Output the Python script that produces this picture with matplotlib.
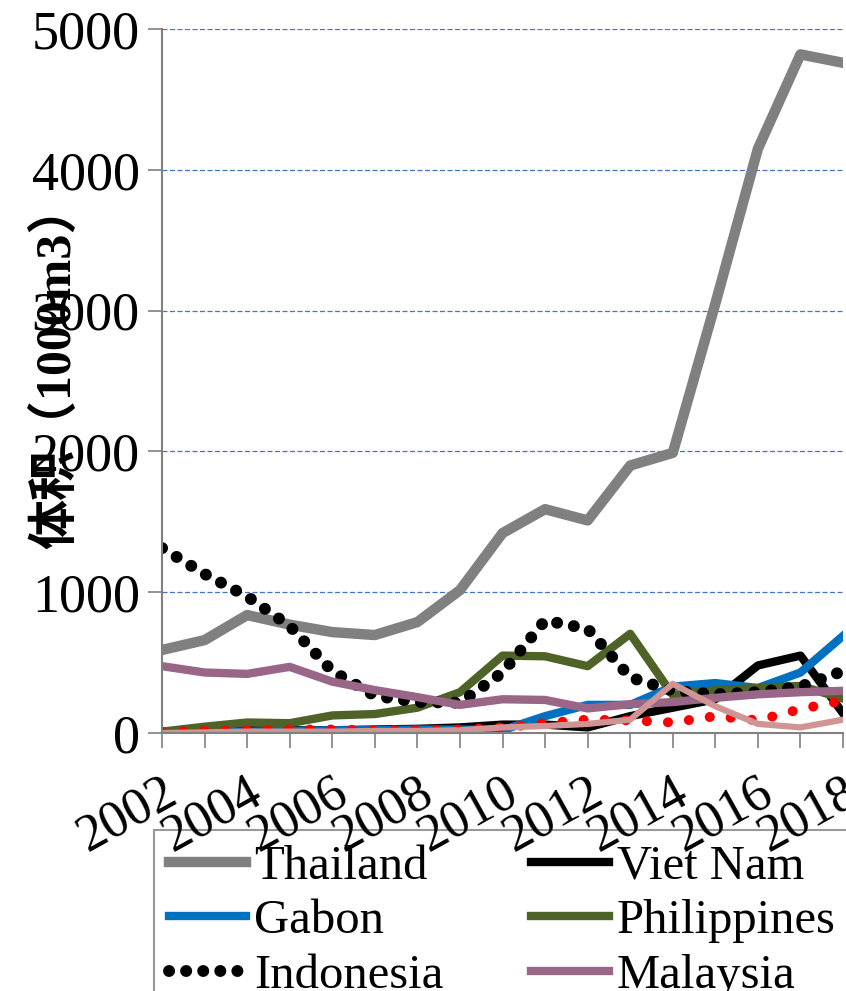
import matplotlib
matplotlib.use("Agg")
import matplotlib.pyplot as plt

# Data (volume, 1000 m3)
years = list(range(2002, 2019))
thailand = [590, 660, 838, 770, 717, 696, 788, 1015, 1420, 1590, 1510, 1900, 1990, 3050, 4150, 4820, 4760]
viet_nam = [10, 15, 20, 20, 20, 25, 30, 40, 60, 60, 40, 120, 180, 240, 480, 550, 140]
gabon = [0, 5, 10, 15, 20, 20, 25, 25, 20, 120, 200, 200, 330, 355, 320, 430, 690]
philippines = [10, 45, 75, 70, 125, 135, 180, 290, 550, 545, 475, 705, 270, 305, 320, 335, 245]
indonesia = [1314, 1130, 970, 760, 440, 265, 220, 215, 430, 800, 740, 395, 300, 275, 290, 330, 440]
malaysia = [475, 430, 420, 470, 365, 305, 255, 200, 240, 235, 175, 205, 220, 250, 275, 290, 300]
other_red = [10, 15, 20, 25, 25, 20, 20, 25, 40, 70, 95, 90, 75, 120, 90, 170, 230]
other_pink = [0, 5, 10, 10, 10, 15, 15, 20, 40, 50, 65, 95, 350, 190, 65, 40, 95]

plt.rcParams['font.family'] = ['Liberation Serif', 'DejaVu Serif']

fig = plt.figure(figsize=(8.46, 9.91), dpi=100)
ax = fig.add_axes([0.1915, 0.2603, 0.8050, 0.7104])

h_th, = ax.plot(years, thailand, color='#808080', lw=7.5, label='Thailand')
h_vn, = ax.plot(years, viet_nam, color='black', lw=6, label='Viet Nam')
h_ga, = ax.plot(years, gabon, color='#0070C0', lw=6, label='Gabon')
h_ph, = ax.plot(years, philippines, color='#4F6228', lw=6, label='Philippines')
h_id, = ax.plot(years, indonesia, color='black', lw=8.6, linestyle=(0, (0.01, 1.42)),
                dash_capstyle='round', label='Indonesia')
h_my, = ax.plot(years, malaysia, color='#996688', lw=6, label='Malaysia')
ax.plot(years, other_red, color='#FF0000', lw=7.2, linestyle=(0, (0.01, 2.1)),
        dash_capstyle='round')
ax.plot(years, other_pink, color='#D09494', lw=4.5)

ax.set_xlim(2002, 2018)
ax.set_ylim(0, 5000)
ax.set_yticks([0, 1000, 2000, 3000, 4000, 5000])
ax.set_xticks(years, minor=True)
ax.set_xticks(list(range(2002, 2019, 2)))
ax.tick_params(axis='y', labelsize=39, length=10, width=1.2, color='#808080', pad=6)
ax.tick_params(axis='x', which='both', length=11, width=1.2, color='#808080')
ax.tick_params(axis='x', labelsize=38, pad=14)
for lab in ax.get_xticklabels():
    lab.set_rotation(29)
    lab.set_ha('right')
    lab.set_va('top')
    lab.set_rotation_mode('anchor')

ax.yaxis.grid(True, color='#4472C4', linestyle=(0, (4, 2)), lw=0.9)
ax.set_axisbelow(True)
for s in ['top', 'right']:
    ax.spines[s].set_visible(False)
for s in ['left', 'bottom']:
    ax.spines[s].set_color('#808080')
    ax.spines[s].set_linewidth(1.5)

ax.set_ylabel('体积（1000m3）', fontsize=36, fontweight='bold',
              family=['Liberation Serif', 'Noto Sans CJK SC'])
ax.yaxis.set_label_coords(-0.118, 0.522)

# legend filled row by row as in the reference
handles = [h_th, h_ga, h_id, h_vn, h_ph, h_my]
leg = fig.legend(handles=handles, labels=[h.get_label() for h in handles],
                 loc='upper left', bbox_to_anchor=(154 / 846, 1 - 830 / 991),
                 bbox_transform=fig.transFigure, ncol=2,
                 fontsize=35, frameon=True, fancybox=False, edgecolor='#808080',
                 handlelength=1.6, handletextpad=0.16, columnspacing=1.8,
                 labelspacing=0.22, borderpad=0.3, borderaxespad=0)
leg.get_frame().set_linewidth(1.5)
leg.set_zorder(-1)

fig.savefig('out.png', dpi=100)
